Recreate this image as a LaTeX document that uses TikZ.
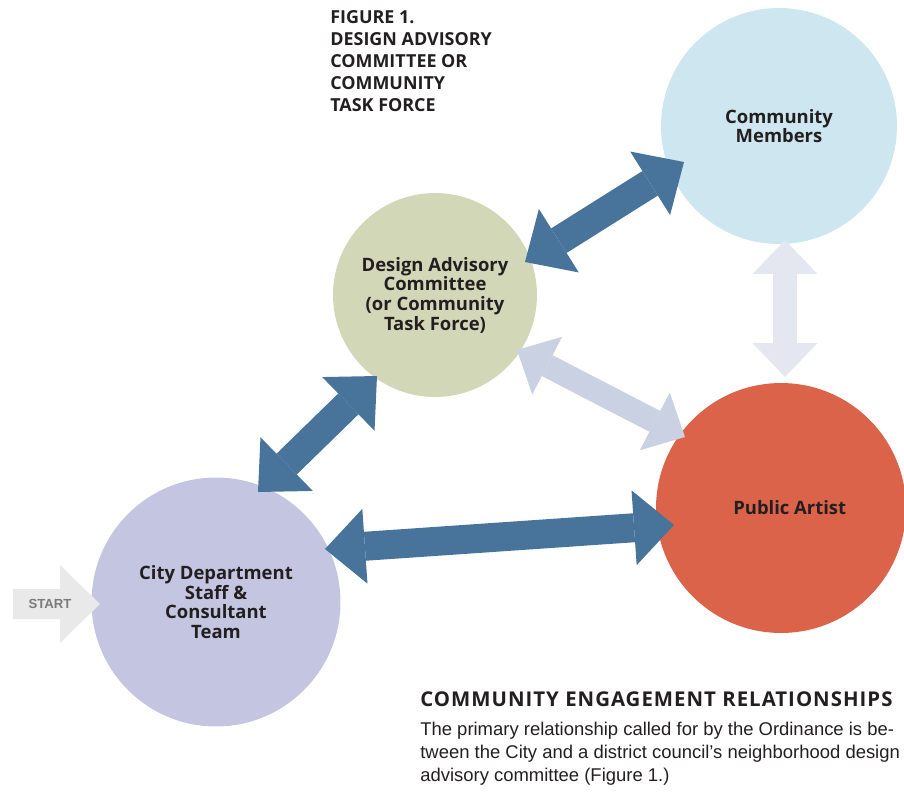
\documentclass[tikz,border=0pt]{standalone}
\usepackage{fontspec}
\setmainfont{Liberation Sans}
\newfontfamily\labelfont{Open Sans}
\newfontfamily\headfont[LetterSpace=5]{Open Sans}
\usetikzlibrary{arrows.meta}

\definecolor{steel}{HTML}{48749B}
\definecolor{paleblue}{HTML}{C9D1E2}
\definecolor{palegrey}{HTML}{E5E7F0}
\definecolor{cmblue}{HTML}{CDE6EF}
\definecolor{dacgreen}{HTML}{D2D7B8}
\definecolor{artistred}{HTML}{DB634A}
\definecolor{citylav}{HTML}{C4C5E1}
\definecolor{startgrey}{HTML}{E9E9E9}
\definecolor{inkdark}{HTML}{231F20}

\begin{document}
\begin{tikzpicture}[x=0.02cm, y=-0.02cm, line join=miter,
  bubble/.style={circle, inner sep=0pt, text=inkdark, align=center,
    font=\labelfont\bfseries\fontsize{10.5}{11.2}\selectfont},
  link/.style={steel, line width=0.58cm, {Triangle[length=0.8cm, width=1.5cm, line width=0pt]}-{Triangle[length=0.8cm, width=1.5cm, line width=0pt]}},
  softlink/.style={line width=0.47cm, {Triangle[length=0.68cm, width=1.3cm, line width=0pt]}-{Triangle[length=0.68cm, width=1.3cm, line width=0pt]}}]

\useasboundingbox (0,0) rectangle (904,795);

% the four groups
\node[bubble, fill=cmblue, minimum size=4.72cm] (cm) at (779,126) {Community\\Members};
\node[bubble, fill=dacgreen, minimum size=4.08cm] (dac) at (435,295) {Design Advisory\\Committee\\(or Community\\Task Force)};
\node[bubble, fill=artistred, minimum size=5cm] (pa) at (781,508) {\hspace*{0.35cm}Public Artist};
\node[bubble, fill=citylav, minimum size=4.98cm] (city) at (216,602) {City Department\\Staff \&\\Consultant\\Team};

% arrow ends
\coordinate (dac-e) at (525,262);
\coordinate (cm-w) at (684,162);
\coordinate (dac-s) at (377,376);
\coordinate (city-n) at (258,492);
\coordinate (city-e) at (325,549);
\coordinate (pa-w) at (674,525);
\coordinate (dac-se) at (517,350);
\coordinate (pa-nw) at (685,437);
\coordinate (cm-s) at (785,240);
\coordinate (pa-n) at (785,377);

% light links first
\draw[softlink, palegrey] (cm-s) -- (pa-n);
\draw[softlink, paleblue] (dac-se) -- (pa-nw);

% main links
\draw[link] (dac-e) -- (cm-w);
\draw[link] (dac-s) -- (city-n);
\draw[link] (city-e) -- (pa-w);

% start marker
\fill[startgrey] (13,589) -- (60,589) -- (60,565) -- (100,604) -- (60,643) -- (60,619) -- (13,619) -- cycle;
\node[text=black!52, font=\bfseries\fontsize{7.5}{9}\selectfont] (start) at (50,604) {START};

% caption
\node[anchor=north west, inner sep=0pt, align=left, text=inkdark,
  font=\labelfont\bfseries\fontsize{10.2}{12.5}\selectfont] (fig) at (330,10)
  {FIGURE 1.\\DESIGN ADVISORY\\COMMITTEE OR\\COMMUNITY\\TASK FORCE};

\node[anchor=base west, inner sep=0pt, text=inkdark,
  font=\headfont\bfseries\fontsize{11.6}{13}\selectfont] (head) at (420,706)
  {COMMUNITY ENGAGEMENT RELATIONSHIPS};
\node[anchor=north west, inner sep=0pt, align=left, text=inkdark,
  font=\fontsize{10.5}{13}\selectfont] (body) at (420,722)
  {The primary relationship called for by the Ordinance is be-\\
   tween the City and a district council's neighborhood design\\
   advisory committee (Figure 1.)};
\end{tikzpicture}
\end{document}
